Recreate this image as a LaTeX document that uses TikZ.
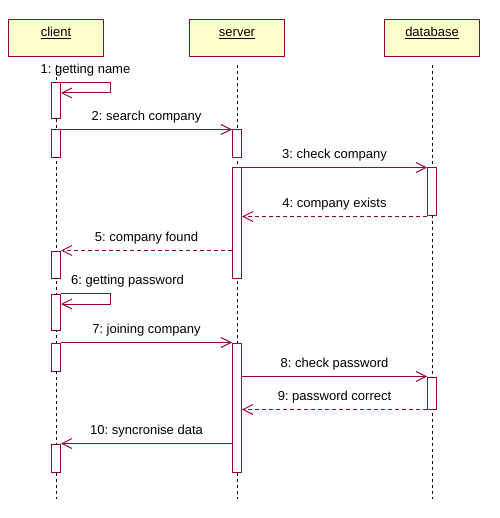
\documentclass[tikz,border=0pt]{standalone}
\usepackage{fontspec}
\setmainfont{Liberation Sans}
\usetikzlibrary{arrows.meta}
\definecolor{umlred}{RGB}{153,0,51}
\definecolor{umlyellow}{RGB}{255,255,204}
\frenchspacing
\tikzset{
    head/.style={draw=umlred, fill=umlyellow, minimum width=95pt, minimum height=37pt, inner sep=0pt},
    headtxt/.style={anchor=north, yshift=-3.4pt, text height=9.5pt, black, font=\fontsize{13}{15}\selectfont},
    act/.style={draw=umlred, fill=white, minimum width=9pt, inner sep=0pt},
    life/.style={black, dash pattern=on 3pt off 3pt},
    msg/.style={umlred, -{Straight Barb[length=10pt,width=10pt]}},
    reply/.style={msg, dash pattern=on 4pt off 3pt},
    txt/.style={black, font=\fontsize{13}{15}\selectfont, above, yshift=2.5pt, inner sep=3pt}
}
\begin{document}
\begin{tikzpicture}[x=1pt, y=-1pt, line width=1pt]
                \useasboundingbox (0,0) rectangle (499,518);

                \node [head, label={[headtxt]north:\underline{client}}] (client) at (56, 38.5) {};
                \node [head, label={[headtxt]north:\underline{server}}] (server) at (237, 38.5) {};
                \node [head, label={[headtxt]north:\underline{database}}] (database) at (432, 38.5) {};

                \coordinate (clienttop) at (56, 65);
                \coordinate (servertop) at (237, 65);
                \coordinate (databasetop) at (432, 65);
                \coordinate (bottom) at (0, 499);

                \draw [life] (clienttop) to (clienttop |- bottom);
                \draw [life] (servertop) to (servertop |- bottom);
                \draw [life] (databasetop) to (databasetop |- bottom);

                \node [act, minimum height=36pt] (c1) at (56, 101) {};
                \node [act, minimum height=28pt] (c2) at (56, 144) {};
                \node [act, minimum height=27pt] (c3) at (56, 264.5) {};
                \node [act, minimum height=36pt] (c4) at (56, 312) {};
                \node [act, minimum height=28pt] (c5) at (56, 357) {};
                \node [act, minimum height=28pt] (c6) at (56, 458) {};

                \node [act, minimum height=28pt] (s1) at (237, 144) {};
                \node [act, minimum height=110pt] (s2) at (237, 223) {};
                \node [act, minimum height=129pt] (s3) at (237, 407.5) {};

                \node [act, minimum height=48pt] (d1) at (432, 192) {};
                \node [act, minimum height=32pt] (d2) at (432, 393) {};

                \coordinate (self1) at (110, 93);
                \coordinate (self6) at (110, 304);

                \draw [msg] (c1.north east) -| (self1) node [txt, pos=0.25] {1: getting name} -- (self1 -| c1.east);
                \draw [msg] (c2.north east) to node [txt] {2: search company} (s1.north west);
                \draw [msg] (s2.north east |- d1.north) to node [txt] {3: check company} (d1.north west);
                \draw [reply] (d1.south west) to node [txt] {4: company exists} (d1.south west -| s2.east);
                \draw [reply] (c3.north east -| s2.west) to node [txt] {5: company found} (c3.north east);
                \draw [msg] (c4.north east) -| (self6) node [txt, pos=0.25, xshift=42pt] {6: getting password} -- (self6 -| c4.east);
                \draw [msg] (c5.north east) to node [txt] {7: joining company} (s3.north west);
                \draw [msg] (d2.north west -| s3.east) to node [txt] {8: check password} (d2.north west);
                \draw [reply] (d2.south west) to node [txt] {9: password correct} (d2.south west -| s3.east);
                \draw [msg] (c6.north east -| s3.west) to node [txt] {10: syncronise data} (c6.north east);
            \end{tikzpicture}
\end{document}
